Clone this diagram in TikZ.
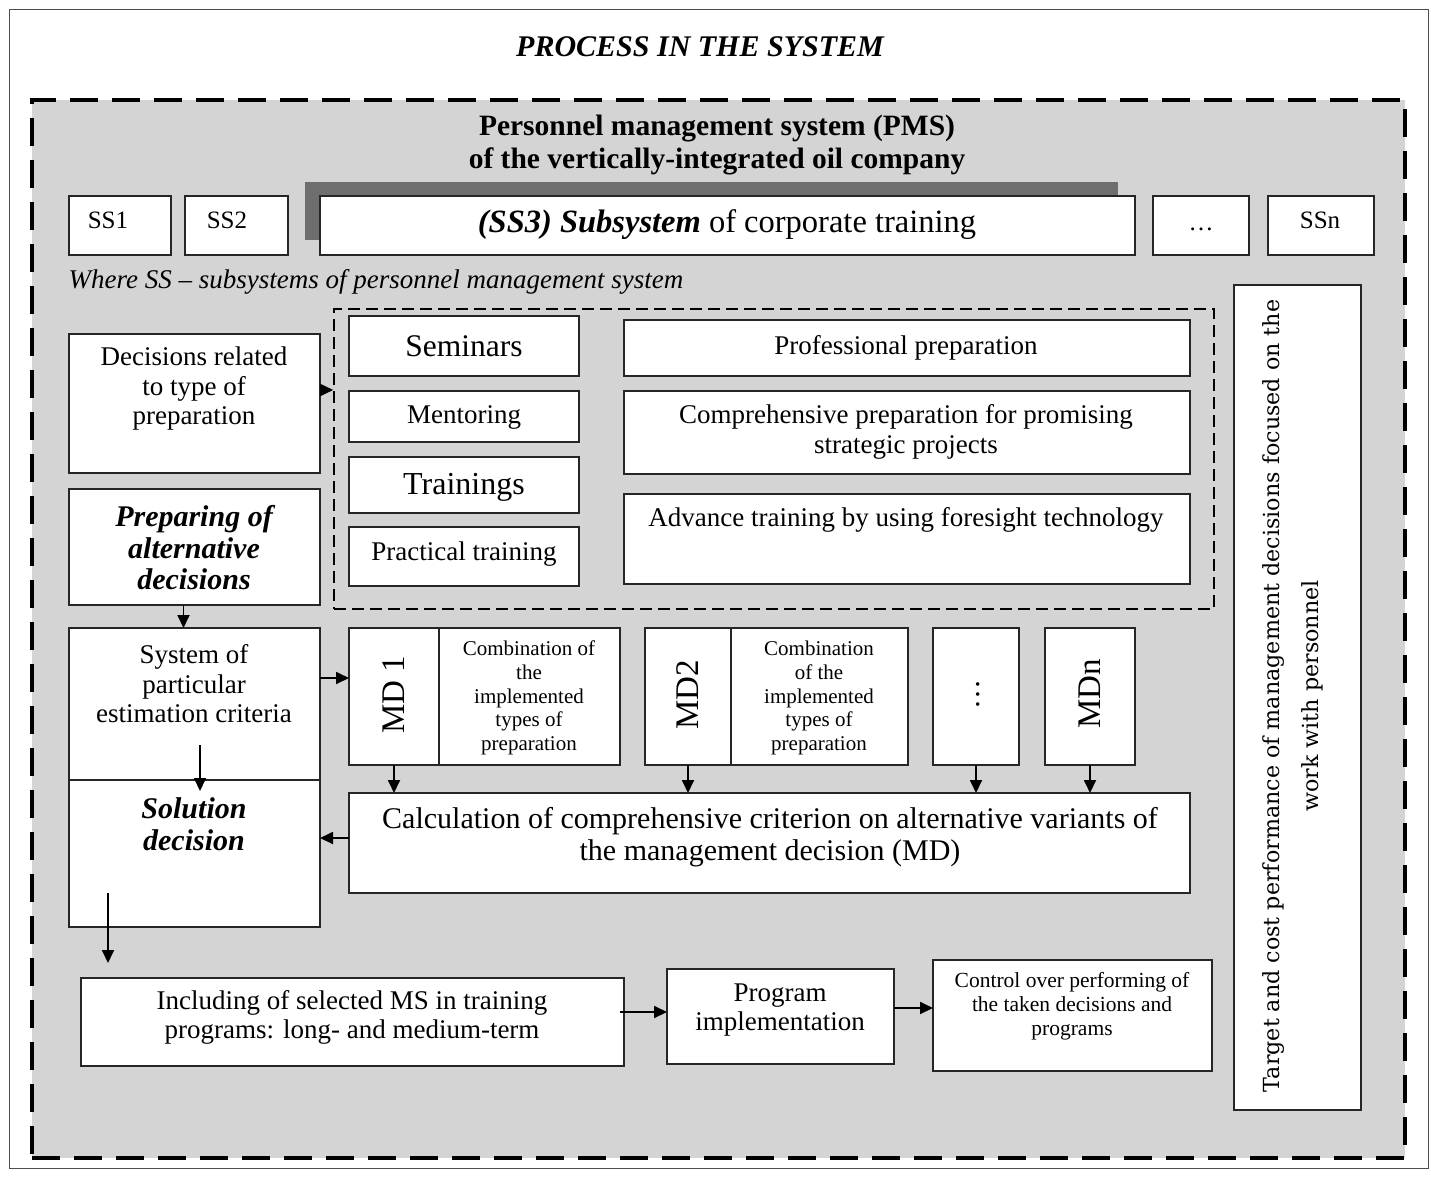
\documentclass[tikz,border=0pt]{standalone}
\usepackage{fontspec}
\setmainfont{Liberation Serif}
\newfontfamily\dvs{DejaVu Serif}
\usetikzlibrary{arrows.meta}
\definecolor{bg}{HTML}{D4D4D4}
\definecolor{shade}{HTML}{6E6E6E}
\definecolor{edge}{HTML}{262626}
\newcommand\fs[2]{\fontsize{#1}{#2}\selectfont}
\newcommand\bx[6][box]{\node[#1, minimum width={(#5)-(#3)}, minimum height={(#6)-(#4)}] (#2) at ({((#3)+(#5))/2},{((#4)+(#6))/2}) {};}
\tikzset{
  box/.style={draw=edge, line width=1.8pt, fill=white, inner sep=0pt, outer sep=0pt},
  outerdash/.style={draw=black, line width=4pt, dash pattern=on 28pt off 14pt, fill=bg, inner sep=0pt},
  innerdash/.style={draw=black, line width=1.6pt, dash pattern=on 12pt off 6pt, inner sep=0pt},
  shadebox/.style={fill=shade, draw=none, inner sep=0pt},
  frame/.style={draw=black!70, line width=1pt, inner sep=0pt},
  txt/.style={inner sep=0pt, align=center, text=black},
  arr/.style={draw=black, line width=1.8pt, -{Triangle[length=13pt,width=12pt]}}
}
\begin{document}
\begin{tikzpicture}[x=1pt,y=-1pt]
\useasboundingbox (0,0) rectangle (1431,1177);
\bx[frame]{frame}{9}{10}{1428}{1168}
\bx[outerdash]{pms}{32}{100}{1405}{1158}
\node[txt, font=\fs{30}{32}\bfseries\itshape] (title) at (700,47) {PROCESS IN THE SYSTEM};
\node[txt, font=\fs{29.5}{33}\bfseries] (pmstitle) at (717,145) {Personnel management system (PMS)\\of the vertically-integrated oil company};
% subsystems row
\bx[shadebox]{shadow}{305}{182}{1118}{240}
\bx{ss1}{69}{196}{171}{255}
\bx{ss2}{185}{196}{288}{255}
\bx{ss3}{320}{196}{1135}{255}
\bx{ssd}{1153}{196}{1249}{255}
\bx{ssn}{1268}{196}{1374}{255}
\node[txt, font=\fs{25}{27}] (t_ss1) at (108,220) {SS1};
\node[txt, font=\fs{25}{27}] (t_ss2) at (227,220) {SS2};
\node[txt, font=\fs{32.5}{34}] (t_ss3) at (727,225) {\textbf{\textit{(SS3) Subsystem}} of corporate training};
\node[txt, font=\fs{25}{27}] (t_ssd) at (1201,229) {\dots};
\node[txt, font=\fs{25}{27}] (t_ssn) at (1320,220) {SSn};
\node[txt, font=\fs{27}{29}\itshape] (where) at (376,282) {Where SS -- subsystems of personnel management system};
% right box
\bx{tgt}{1234}{285}{1361}{1110}
\node[txt, rotate=90, font=\dvs\fs{22.2}{39}] (t_tgt) at (1293,696) {Target and cost performance of management decisions focused on the\\work with personnel};
% types of preparation group
\bx[innerdash]{grp}{334}{309}{1214}{609}
\bx{sem}{349}{316}{579}{376}
\bx{men}{349}{391}{579}{442}
\bx{trn}{349}{457}{579}{513}
\bx{prt}{349}{527}{579}{586}
\node[txt, font=\fs{31.5}{33}] (t_sem) at (464,346) {Seminars};
\node[txt, font=\fs{27}{29}] (t_men) at (464,417) {Mentoring};
\node[txt, font=\fs{32}{33}] (t_trn) at (464,487) {Trainings};
\node[txt, font=\fs{27}{29}] (t_prt) at (464,554) {Practical training};
\bx{pro}{624}{320}{1190}{376}
\bx{com}{624}{391}{1190}{474}
\bx{adv}{624}{494}{1190}{584}
\node[txt, font=\fs{27}{30}] (t_pro) at (906,348) {Professional preparation};
\node[txt, font=\fs{27}{30}] (t_com) at (906,432) {Comprehensive preparation for promising\\strategic projects};
\node[txt, font=\fs{27}{30}] (t_adv) at (906,520) {Advance training by using foresight technology};
% left column
\bx{dec}{69}{334}{320}{473}
\node[txt, font=\fs{27}{29.5}] (t_dec) at (194,389) {Decisions related\\to type of\\preparation};
\bx{prep}{69}{489}{320}{605}
\node[txt, font=\fs{30}{31.5}\bfseries\itshape] (t_prep) at (194,548) {Preparing of\\alternative\\decisions};
\bx{sys}{69}{628}{320}{780}
\node[txt, font=\fs{27}{29.5}] (t_sys) at (194,684) {System of\\particular\\estimation criteria};
\bx{sol}{69}{780}{320}{927}
\node[txt, font=\fs{30}{32}\bfseries\itshape] (t_sol) at (194,824) {Solution\\decision};
% MD row
\bx{md1}{349}{628}{439}{765}
\bx{cb1}{439}{628}{620}{765}
\bx{md2}{645}{628}{731}{765}
\bx{cb2}{731}{628}{908}{765}
\bx{mdd}{933}{628}{1019}{765}
\bx{mdn}{1045}{628}{1135}{765}
\node[txt, rotate=90, font=\fs{33}{34}] (t_md1) at (394,695) {MD 1};
\node[txt, rotate=90, font=\fs{33}{34}] (t_md2) at (688,695) {MD2};
\node[txt, rotate=90, font=\fs{30}{32}] (t_mdd) at (978,694) {\dots};
\node[txt, rotate=90, font=\fs{33}{34}] (t_mdn) at (1090,694) {MDn};
\node[txt, font=\fs{21}{23.7}] (t_cb1) at (529,698) {Combination of\\the\\implemented\\types of\\preparation};
\node[txt, font=\fs{21}{23.7}] (t_cb2) at (819,698) {Combination\\of the\\implemented\\types of\\preparation};
\bx{calc}{349}{793}{1190}{893}
\node[txt, font=\fs{30}{32}] (t_calc) at (770,837) {Calculation of comprehensive criterion on alternative variants of\\the management decision (MD)};
% bottom row
\bx{incl}{81}{978}{624}{1066}
\node[txt, font=\fs{27}{29}] (t_incl) at (352,1017) {Including of selected MS in training\\programs: long- and medium-term};
\bx{prog}{667}{969}{894}{1064}
\node[txt, font=\fs{27}{29}] (t_prog) at (780,1010) {Program\\implementation};
\bx{ctrl}{933}{960}{1212}{1071}
\node[txt, font=\fs{21.5}{24}] (t_ctrl) at (1072,1006) {Control over performing of\\the taken decisions and\\programs};
% connectors
\draw[arr] ([yshift=13.5pt]dec.east) -- ([yshift=13.5pt]dec.east -| grp.west);
\draw[arr] ([xshift=-11pt]prep.south) -- ([xshift=-11pt]sys.north);
\draw[arr] ([xshift=5.5pt,yshift=35pt]sys.south) -- ([xshift=5.5pt,yshift=-11pt]sys.south);
\draw[arr] ([yshift=26pt]sys.east) -- ([yshift=26pt]sys.east -| md1.west);
\draw[arr] (md1.south) -- (md1.south |- calc.north);
\draw[arr] (md2.south) -- (md2.south |- calc.north);
\draw[arr] (mdd.south) -- (mdd.south |- calc.north);
\draw[arr] (mdn.south) -- (mdn.south |- calc.north);
\draw[arr] ([yshift=5pt]calc.west) -- ([yshift=5pt]calc.west -| sol.east);
\draw[arr, shorten >=15pt] ([xshift=-86.5pt,yshift=34pt]sol.south) -- ([xshift=-86.5pt]sol.south |- incl.north);
\draw[arr] ([yshift=10pt,xshift=-4pt]incl.east) -- ([yshift=10pt]incl.east -| prog.west);
\draw[arr] ([yshift=8.5pt]prog.east) -- ([yshift=8.5pt]prog.east -| ctrl.west);
\end{tikzpicture}
\end{document}
